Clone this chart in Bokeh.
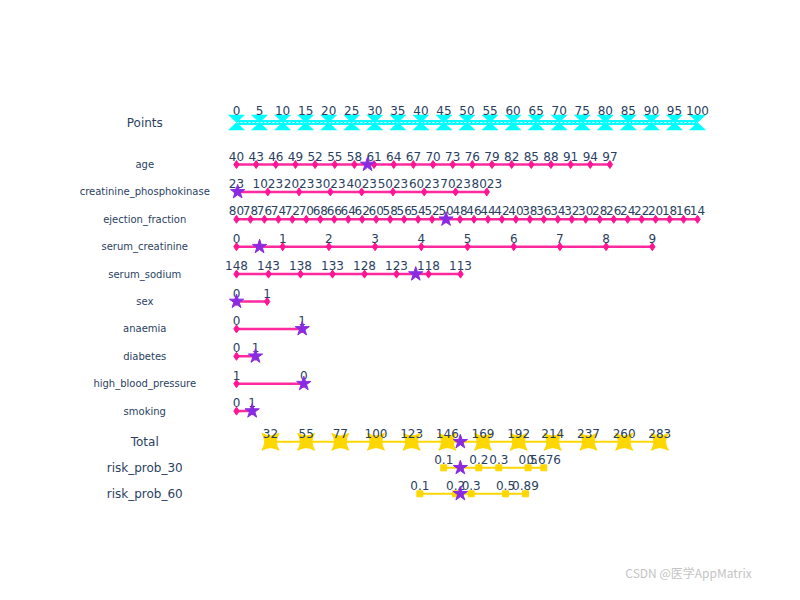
from bokeh.plotting import figure
from bokeh.models import Range1d, Label
from bokeh.core.properties import value
from bokeh.embed import file_html
from bokeh.resources import INLINE

# ---------------- data ----------------
points_ticks = list(range(0, 101, 5))

variables = ["age", "creatinine_phosphokinase", "ejection_fraction",
             "serum_creatinine", "serum_sodium", "sex", "anaemia",
             "diabetes", "high_blood_pressure", "smoking"]

age_ticks = list(range(40, 98, 3))
cpk_ticks = [23, 1023, 2023, 3023, 4023, 5023, 6023, 7023, 8023]
ef_ticks = list(range(80, 13, -2))
sc_ticks = [0, 1, 2, 3, 4, 5, 6, 7, 8, 9]
ss_ticks = [148, 143, 138, 133, 128, 123, 118, 113]
sex_ticks = [0, 1]
anaemia_ticks = [0, 1]
diabetes_ticks = [0, 1]
hbp_ticks = [1, 0]
smoking_ticks = [0, 1]
var_ticks = [age_ticks, cpk_ticks, ef_ticks, sc_ticks, ss_ticks,
             sex_ticks, anaemia_ticks, diabetes_ticks, hbp_ticks, smoking_ticks]

# points reached at the last tick of each variable (first tick = 0 points)
max_points = [81.0, 54.3, 100.0, 90.2, 48.6, 6.65, 14.25, 4.12, 14.6, 3.4]

# the patient drawn with stars
patient = [60, 60, 50, 0.5, 120, 0, 1, 1, 0, 1]

total_ticks = [32, 55, 77, 100, 123, 146, 169, 192, 214, 237, 260, 283]

risk30_probs = [0.1, 0.2, 0.3, 0.5, 0.676]
risk30_total = [143.7, 166.3, 179.2, 198.1, 208.2]
risk60_probs = [0.1, 0.2, 0.3, 0.5, 0.89]
risk60_total = [128.3, 151.3, 161.4, 183.5, 196.4]

# ---------------- styles / layout ----------------
FONT = value("DejaVu Sans")
TXT = "#2a3f5f"
PINK = "#ff1493"
CYAN = "#00ffff"
GOLD = "#ffd700"
PURPLE = "#8a2be2"

Y_POINTS = 122
Y_VAR0 = 164
DY = 27.4
Y_TOTAL = 441.3
Y_R30 = 467.3
Y_R60 = 493.3
LABEL_X = -19.9

p = figure(width=784, height=584, output_backend="svg", toolbar_location=None,
           x_range=Range1d(-51.19, 118.87), y_range=Range1d(584, 0),
           x_axis_type=None, y_axis_type=None, min_border=0)
p.extra_x_ranges = {"total": Range1d(-142.08, 363.4)}
p.xgrid.visible = False
p.ygrid.visible = False
p.outline_line_color = None
p.background_fill_color = "white"
p.border_fill_color = "white"


def to_points(v, ticks, maxp):
    t0, t1 = ticks[0], ticks[-1]
    return (v - t0) / (t1 - t0) * maxp


def fmt(v):
    return str(v)


# ---- Points row ----
p.line([points_ticks[0], points_ticks[-1]], [Y_POINTS, Y_POINTS], line_color=CYAN, line_width=5)
p.line([points_ticks[0], points_ticks[-1]], [Y_POINTS, Y_POINTS], line_color="white",
       line_width=1.2, line_dash="2 2")
hw = 8 / 4.61
xs = [[t - hw, t + hw, t - hw, t + hw] for t in points_ticks]
ys = [[Y_POINTS - 7.5, Y_POINTS - 7.5, Y_POINTS + 7.5, Y_POINTS + 7.5] for t in points_ticks]
p.patches(xs, ys, fill_color=CYAN, line_color=CYAN, line_width=0.5)
p.text(x=points_ticks, y=[Y_POINTS - 12.5] * len(points_ticks),
       text=[fmt(t) for t in points_ticks], text_font=FONT, text_font_size="12px",
       text_align="center", text_baseline="middle", text_color=TXT)
p.text(x=[LABEL_X], y=[Y_POINTS], text=["Points"], text_font=FONT, text_font_size="12px",
       text_align="center", text_baseline="middle", text_color=TXT)

# ---- variable rows ----
total_score = 0.0
for i, (name, ticks, maxp, pv) in enumerate(zip(variables, var_ticks, max_points, patient)):
    y = Y_VAR0 + i * DY
    tx = [to_points(t, ticks, maxp) for t in ticks]
    p.line([0, maxp], [y, y], line_color=PINK, line_width=2.5, line_alpha=0.9)
    p.scatter(tx, [y] * len(tx), marker="diamond", size=8, fill_color=PINK, line_color=PINK)
    p.text(x=tx, y=[y - 8.5] * len(tx), text=[fmt(t) for t in ticks], text_font=FONT,
           text_font_size="12px", text_align="center", text_baseline="middle", text_color=TXT)
    sp = to_points(pv, ticks, maxp)
    total_score += sp
    p.scatter([sp], [y], marker="star", size=15, fill_color=PURPLE, line_color=PURPLE)
    p.text(x=[LABEL_X], y=[y], text=[name], text_font=FONT, text_font_size="10px",
           text_align="center", text_baseline="middle", text_color=TXT)

# ---- Total row ----
p.line([total_ticks[0], total_ticks[-1]], [Y_TOTAL, Y_TOTAL], line_color=GOLD, line_width=2,
       x_range_name="total")
p.scatter(total_ticks, [Y_TOTAL] * len(total_ticks), marker="square_pin", size=17,
          fill_color=GOLD, line_color=GOLD, x_range_name="total")
p.text(x=total_ticks, y=[Y_TOTAL - 8.5] * len(total_ticks), text=[fmt(t) for t in total_ticks],
       text_font=FONT, text_font_size="12px", text_align="center", text_baseline="middle",
       text_color=TXT, x_range_name="total")
p.scatter([total_score], [Y_TOTAL], marker="star", size=15, fill_color=PURPLE,
          line_color=PURPLE, x_range_name="total")
p.text(x=[LABEL_X], y=[Y_TOTAL], text=["Total"], text_font=FONT, text_font_size="12px",
       text_align="center", text_baseline="middle", text_color=TXT)

# ---- risk rows ----
for name, probs, tot, y in [("risk_prob_30", risk30_probs, risk30_total, Y_R30),
                            ("risk_prob_60", risk60_probs, risk60_total, Y_R60)]:
    p.line([tot[0], tot[-1]], [y, y], line_color=GOLD, line_width=2, x_range_name="total")
    p.scatter(tot, [y] * len(tot), marker="square", size=6, fill_color=GOLD,
              line_color=GOLD, x_range_name="total")
    p.text(x=tot, y=[y - 8.5] * len(tot), text=[fmt(v) for v in probs], text_font=FONT,
           text_font_size="12px", text_align="center", text_baseline="middle",
           text_color=TXT, x_range_name="total")
    p.scatter([total_score], [y], marker="star", size=15, fill_color=PURPLE,
              line_color=PURPLE, x_range_name="total")
    p.text(x=[LABEL_X], y=[y], text=[name], text_font=FONT, text_font_size="12px",
           text_align="center", text_baseline="middle", text_color=TXT)

# watermark
p.add_layout(Label(x=688, y=12, x_units="screen", y_units="screen",
                   text="CSDN @医学AppMatrix", text_font="Noto Sans CJK SC",
                   text_font_size="12px", text_color="#c4c4c4",
                   text_align="center", text_baseline="middle"))

open("out.html", "w").write(file_html(p, INLINE))
